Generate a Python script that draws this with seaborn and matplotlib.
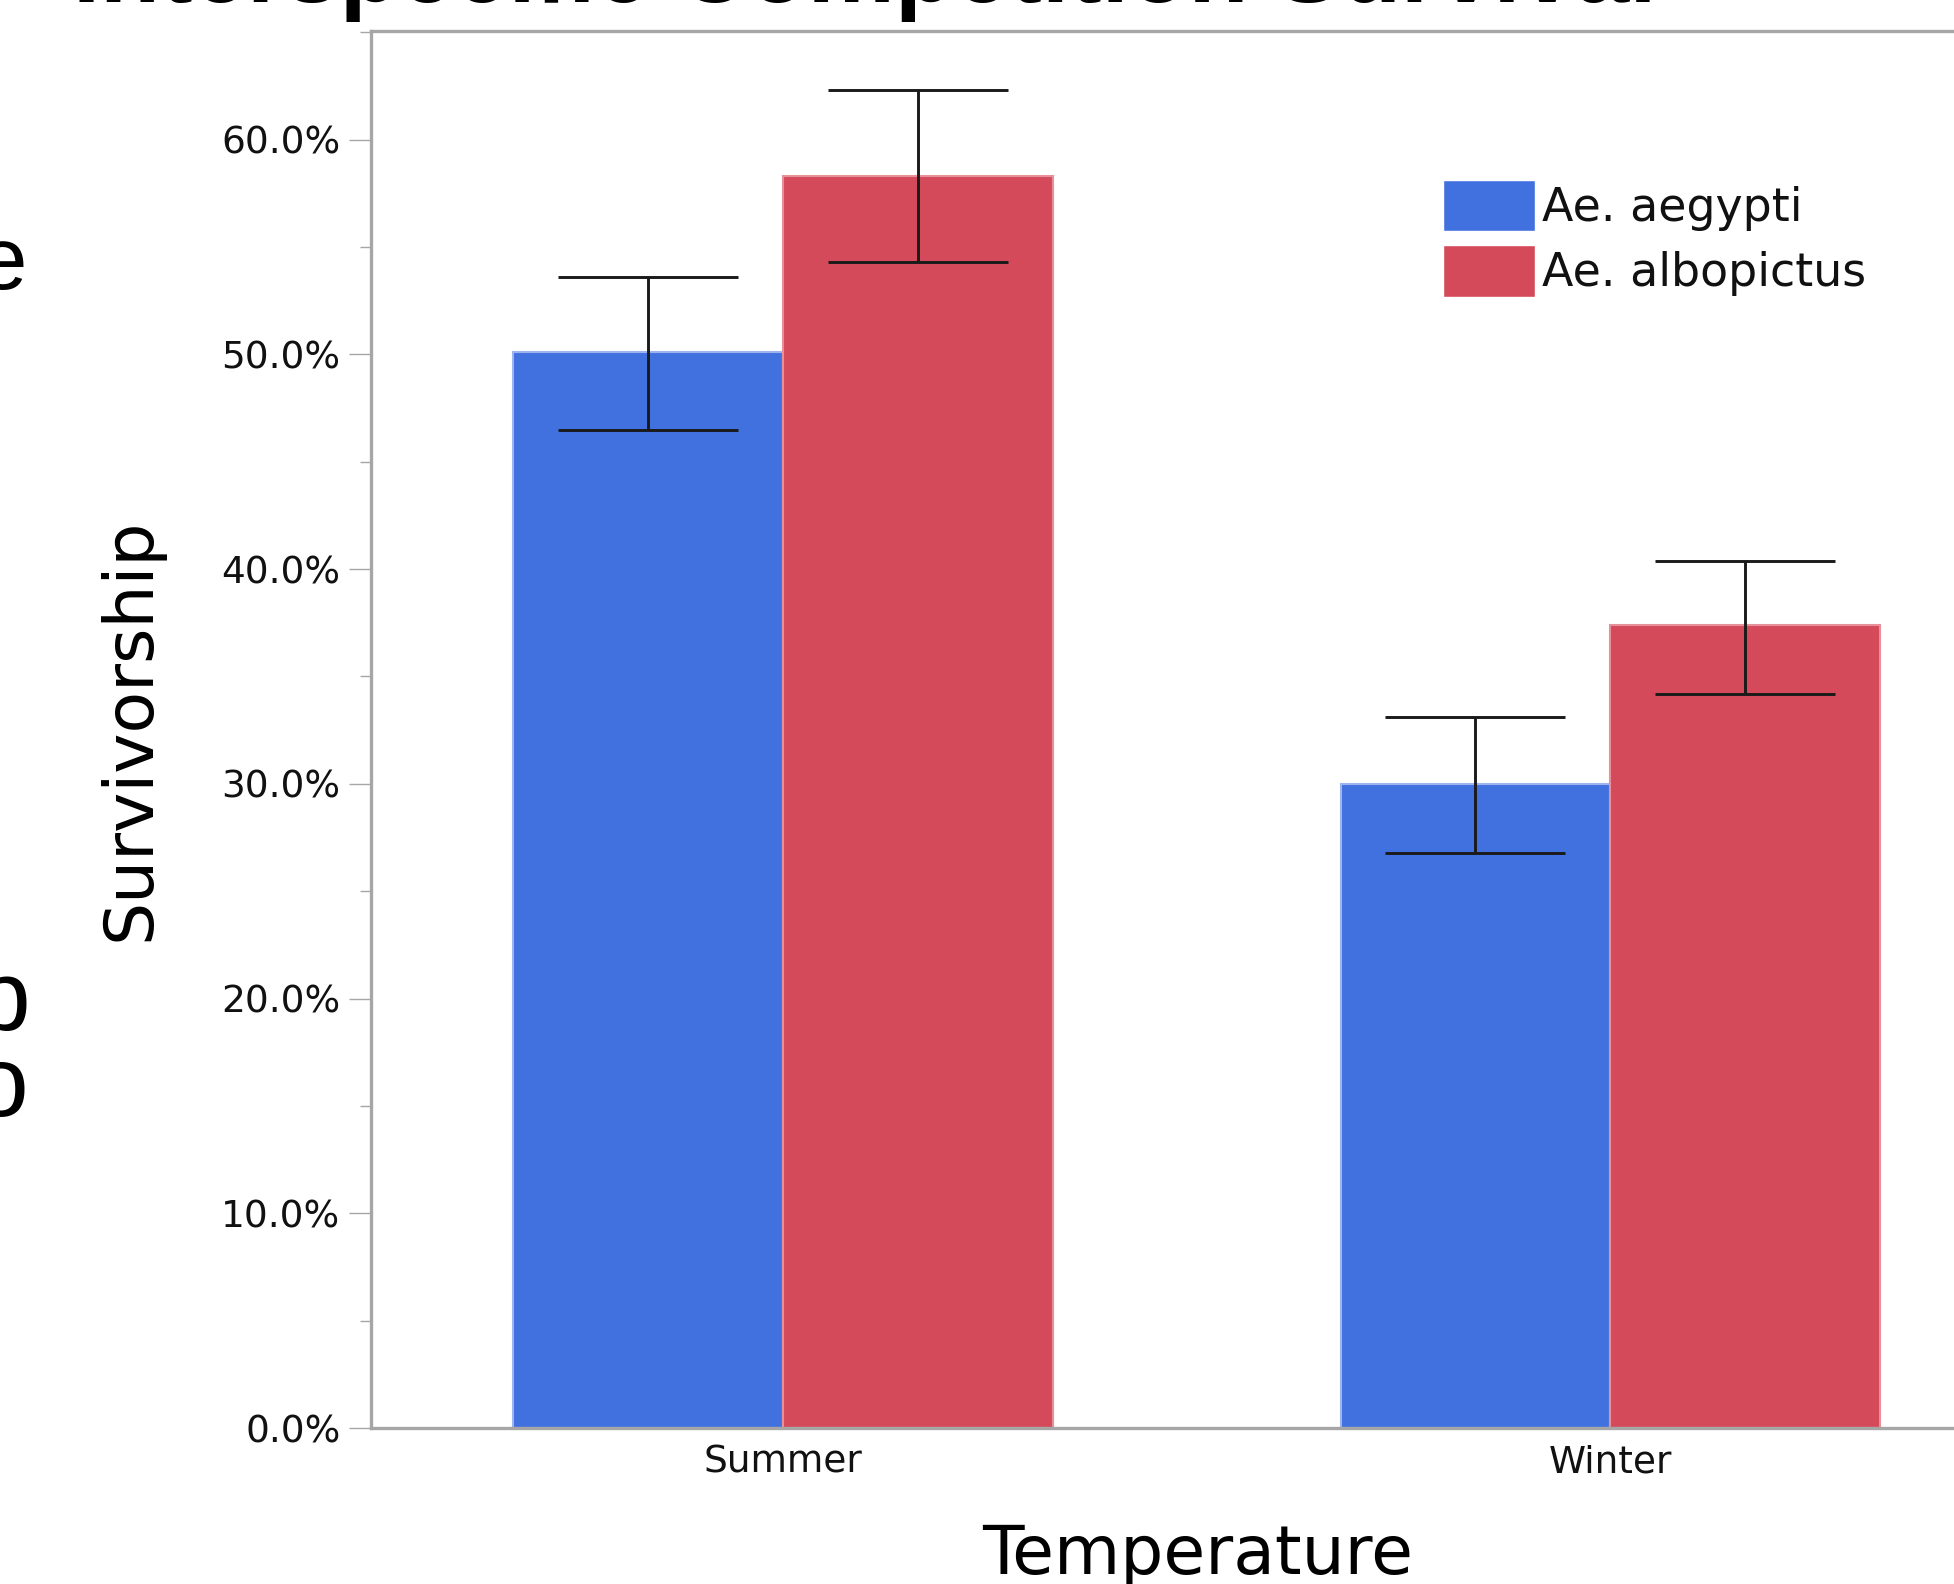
import pandas as pd
import matplotlib
matplotlib.use("Agg")
import matplotlib.pyplot as plt
import seaborn as sns
from matplotlib.ticker import MultipleLocator, FuncFormatter

# values (percent survivorship)
temperatures = ["Summer", "Winter"]
species = ["Ae. aegypti", "Ae. albopictus"]
aegypti_mean = [50.1, 30.0]
aegypti_low = [46.5, 26.8]
aegypti_high = [53.6, 33.1]
albopictus_mean = [58.3, 37.4]
albopictus_low = [54.3, 34.2]
albopictus_high = [62.3, 40.4]

colors = ["#4171DF", "#D44A5A"]
edge_colors = ["#9DB4EE", "#E8909A"]
grey = "#A6A6A6"

df = pd.DataFrame({
    "Temperature": temperatures * 2,
    "Species": [species[0]] * 2 + [species[1]] * 2,
    "Survivorship": aegypti_mean + albopictus_mean,
})
lows = [aegypti_low, albopictus_low]
highs = [aegypti_high, albopictus_high]

sns.set_style("white")
plt.rcParams["font.family"] = ["DejaVu Sans"]

fig = plt.figure(figsize=(19.54, 15.84), dpi=100)
ax = fig.add_axes([0.18987, 0.09848, 0.84596, 0.88194])

sns.barplot(data=df, x="Temperature", y="Survivorship", hue="Species",
            hue_order=species, order=temperatures, palette=colors,
            saturation=1, width=0.652, errorbar=None, ax=ax)

# outline + error bars per species
bar_groups = list(ax.containers)
for i, cont in enumerate(bar_groups):
    for bar in cont:
        bar.set_edgecolor(edge_colors[i])
        bar.set_linewidth(1.5)
    xs = [b.get_x() + b.get_width() / 2 for b in cont]
    ys = [b.get_height() for b in cont]
    yerr = [[y - lo for y, lo in zip(ys, lows[i])],
            [hi - y for y, hi in zip(ys, highs[i])]]
    ax.errorbar(xs, ys, yerr=yerr, fmt="none", ecolor="#1A1A1A",
                elinewidth=2.1, capsize=65, capthick=2.1, zorder=5)

ax.set_xlim(-0.498, 1.5)
ax.set_ylim(0, 65.06)
ax.yaxis.set_major_locator(MultipleLocator(10))
ax.yaxis.set_minor_locator(MultipleLocator(5))
ax.yaxis.set_major_formatter(FuncFormatter(lambda v, p: f"{v:.1f}%"))

for side in ["left", "bottom", "top"]:
    ax.spines[side].set_color(grey)
    ax.spines[side].set_linewidth(2.4)
ax.spines["right"].set_visible(False)

ax.tick_params(axis="y", which="major", left=True, length=16, width=1.0,
               color=grey, labelsize=27, pad=6, labelcolor="#111111")
ax.tick_params(axis="y", which="minor", left=True, length=8, width=1.0,
               color=grey)
ax.tick_params(axis="x", length=0, labelsize=27, pad=12,
               labelcolor="#111111")

ax.set_xlabel("Temperature", fontsize=49, color="black")
ax.xaxis.label.set_va("baseline")
ax.xaxis.set_label_coords(0.5, -0.1045)
ax.set_ylabel("Survivorship", fontsize=49, color="black")
ax.yaxis.label.set_va("center")
ax.yaxis.set_label_coords(-0.1452, 0.5)

handles, labels = ax.get_legend_handles_labels()
ax.legend(handles, labels, loc="upper left",
          bbox_to_anchor=(1443 / 1954, 1 - 180 / 1584),
          bbox_transform=fig.transFigure, frameon=False, fontsize=33,
          handlelength=2.0, handleheight=1.35, handletextpad=0.15,
          labelspacing=0.3, borderpad=0, borderaxespad=0,
          labelcolor="#111111")

# slide title and text fragments cut off by the screenshot
fig.text(73 / 1954, 1 - 2 / 1584, "Interspecific Competition Survival",
         ha="left", va="baseline", fontsize=70.5, fontweight="bold",
         family="Liberation Sans", color="black")
fig.text(-23 / 1954, 1 - 289 / 1584, "e", ha="left", va="baseline",
         fontsize=64, family="Liberation Sans", color="black")
fig.text(-25 / 1954, 1 - 1030 / 1584, "p", ha="left", va="baseline",
         fontsize=72, family="Liberation Sans", color="black")
fig.text(-27 / 1954, 1 - 1116 / 1584, "o", ha="left", va="baseline",
         fontsize=72, family="Liberation Sans", color="black")

fig.savefig("out.png", dpi=100)
